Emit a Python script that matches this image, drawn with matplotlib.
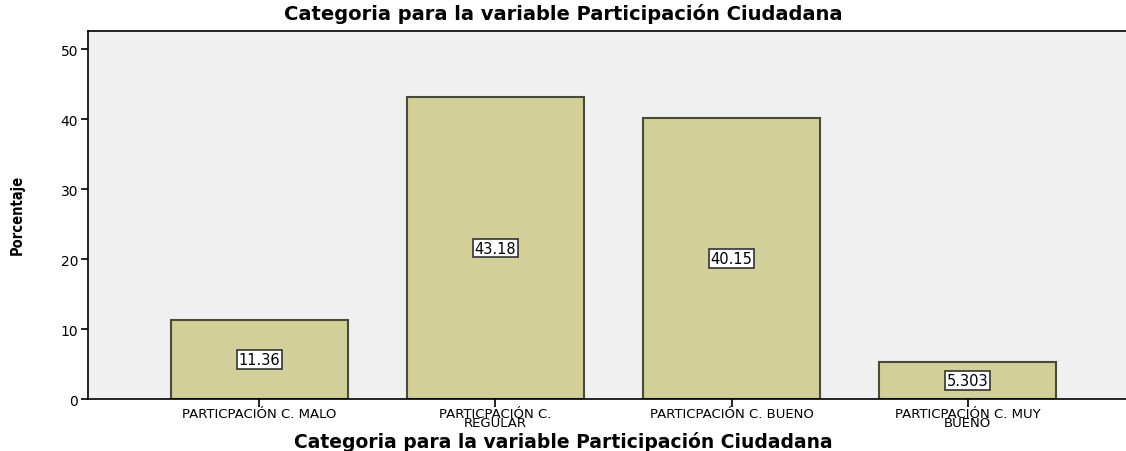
import matplotlib.pyplot as plt

categories = ["PARTICPACIÓN C. MALO", "PARTICPACIÓN C.\nREGULAR",
              "PARTICPACIÓN C. BUENO", "PARTICPACIÓN C. MUY\nBUENO"]
percentages = [11.36, 43.18, 40.15, 5.303]
labels = ["11.36", "43.18", "40.15", "5.303"]

fig = plt.figure(figsize=(11.26, 4.52), dpi=100)
ax = fig.add_axes([0.078, 0.115, 0.922, 0.814])
ax.set_facecolor("#f0f0f0")

x = range(len(categories))
bars = ax.bar(x, percentages, width=0.75, color="#d3cf98",
              edgecolor="#4a4a3a", linewidth=1.5, zorder=2)

for b, lab in zip(bars, labels):
    ax.text(b.get_x() + b.get_width() / 2, b.get_height() / 2, lab,
            ha="center", va="center", fontsize=10.5, family="DejaVu Sans",
            bbox=dict(boxstyle="square,pad=0.12", fc="white", ec="#333333", lw=1.2),
            zorder=3)

ax.set_xlim(-0.725, 3.67)
ax.set_ylim(0, 52.6)
ax.set_yticks([0, 10, 20, 30, 40, 50])
ax.set_xticks(list(x))
ax.set_xticklabels(categories, fontsize=9.5, family="DejaVu Sans", linespacing=0.6)
ax.tick_params(axis="y", labelsize=10, length=5, width=1.2, pad=2)
ax.tick_params(axis="x", length=6, width=1.2, pad=0)

ax.spines["right"].set_visible(False)
for s in ["left", "bottom", "top"]:
    ax.spines[s].set_linewidth(1.2)

title = "Categoria para la variable Participación Ciudadana"
fig.text(563 / 1126, 1 - 14 / 452, title,
         ha="center", va="center", fontsize=14, fontweight="bold", family="DejaVu Sans")
fig.text(563 / 1126, 1 - 442 / 452, title,
         ha="center", va="center", fontsize=13.5, fontweight="bold", family="DejaVu Sans")
fig.text(17 / 1126, 1 - 215 / 452, "Porcentaje", rotation=90, ha="center", va="center",
         fontsize=10.5, fontweight="bold", fontstretch="condensed",
         family=["Liberation Sans Narrow", "DejaVu Sans Condensed", "DejaVu Sans"])

fig.savefig("out.png", dpi=100)
